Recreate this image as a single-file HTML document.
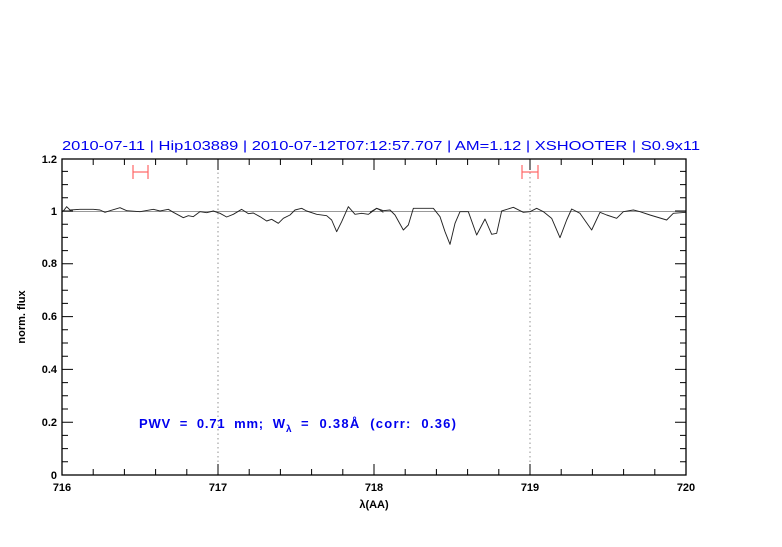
<!DOCTYPE html>
<html><head><meta charset="utf-8"><style>
body{margin:0;background:#fff;}
svg text{font-family:"Liberation Sans",sans-serif;}
</style></head><body>
<svg width="782" height="542" xmlns="http://www.w3.org/2000/svg">
<rect width="782" height="542" fill="#fff"/>
<text x="62" y="150" font-size="13" fill="#0000ee" textLength="638" lengthAdjust="spacingAndGlyphs">2010-07-11 | Hip103889 | 2010-07-12T07:12:57.707 | AM=1.12 | XSHOOTER | S0.9x11</text>
<line x1="218" y1="159" x2="218" y2="475" stroke="#777" stroke-width="0.8" stroke-dasharray="1.5,3"/>
<line x1="530" y1="159" x2="530" y2="475" stroke="#777" stroke-width="0.8" stroke-dasharray="1.5,3"/>
<line x1="62" y1="211.5" x2="686" y2="211.5" stroke="#999" stroke-width="1"/>
<g stroke="#f66" stroke-width="1.2">
<line x1="133" y1="172" x2="148" y2="172"/><line x1="133" y1="165" x2="133" y2="179"/><line x1="148" y1="165" x2="148" y2="179"/>
<line x1="522" y1="172" x2="538" y2="172"/><line x1="522" y1="165" x2="522" y2="179"/><line x1="538" y1="165" x2="538" y2="179"/>
</g>
<g transform="translate(60,155) scale(0.33333)" fill="none" stroke="#222" stroke-width="2.8" stroke-linejoin="round">
<polyline points="6,170 10,168 20,155 30,165 60,163 100,163 120,165 135,172 150,167 180,158 200,167 240,170 280,163 300,168 325,163 340,172 370,188 385,182 400,185 420,170 440,173 460,168 480,175 500,186 520,178 545,163 565,176 580,174 600,185 620,198 635,193 655,205 670,190 690,180 705,165 725,160 740,168 770,178 800,182 815,195 830,230 845,200 865,155 885,178 905,175 925,178 950,160 960,165 970,172"/>
</g>
<g transform="translate(370,155) scale(0.33333)" fill="none" stroke="#222" stroke-width="2.8" stroke-linejoin="round">
<polyline points="0,172 20,160 40,167 60,165 75,180 100,225 115,210 130,160 190,160 210,185 225,230 240,268 255,205 270,170 295,170 320,240 345,192 365,238 380,235 395,168 430,157 460,172 480,170 500,160 520,170 545,190 570,248 590,195 605,162 630,175 665,225 690,172 710,180 740,190 760,170 790,165 810,170 840,180 890,195 910,175 948,172"/>
</g>
<rect x="62" y="159" width="624" height="316" fill="none" stroke="#000" stroke-width="1.3"/>
<g stroke="#000" stroke-width="1">
<path d="M93.2 475v-6M124.4 475v-6M155.6 475v-6M186.8 475v-6M218 475v-11M249.2 475v-6M280.4 475v-6M311.6 475v-6M342.8 475v-6M374 475v-11M405.2 475v-6M436.4 475v-6M467.6 475v-6M498.8 475v-6M530 475v-11M561.2 475v-6M592.4 475v-6M623.6 475v-6M654.8 475v-6"/>
<path d="M93.2 159v6M124.4 159v6M155.6 159v6M186.8 159v6M218 159v11M249.2 159v6M280.4 159v6M311.6 159v6M342.8 159v6M374 159v11M405.2 159v6M436.4 159v6M467.6 159v6M498.8 159v6M530 159v11M561.2 159v6M592.4 159v6M623.6 159v6M654.8 159v6"/>
<path d="M62 461.8h6M62 448.6h6M62 435.4h6M62 422.2h11M62 409h6M62 395.8h6M62 382.6h6M62 369.4h11M62 356.2h6M62 343h6M62 329.8h6M62 316.6h11M62 303.4h6M62 290.2h6M62 277h6M62 263.8h11M62 250.6h6M62 237.4h6M62 224.2h6M62 211h11M62 197.8h6M62 184.6h6M62 171.4h6"/>
<path d="M686 461.8h-6M686 448.6h-6M686 435.4h-6M686 422.2h-11M686 409h-6M686 395.8h-6M686 382.6h-6M686 369.4h-11M686 356.2h-6M686 343h-6M686 329.8h-6M686 316.6h-11M686 303.4h-6M686 290.2h-6M686 277h-6M686 263.8h-11M686 250.6h-6M686 237.4h-6M686 224.2h-6M686 211h-11M686 197.8h-6M686 184.6h-6M686 171.4h-6"/>
</g>
<g font-size="11" font-weight="bold" fill="#000">
<g text-anchor="middle">
<text x="62" y="491">716</text><text x="218" y="491">717</text><text x="374" y="491">718</text><text x="530" y="491">719</text><text x="686" y="491">720</text>
<text x="374" y="508">λ(AA)</text>
</g>
<g text-anchor="end">
<text x="57" y="479">0</text><text x="57" y="426">0.2</text><text x="57" y="373">0.4</text><text x="57" y="320">0.6</text><text x="57" y="267">0.8</text><text x="57" y="215">1</text><text x="57" y="163">1.2</text>
</g>
<text transform="translate(25,317) rotate(-90)" text-anchor="middle">norm. flux</text>
</g>
<g font-size="13" fill="#0000ee" font-weight="bold">
<text x="139" y="428" textLength="146" lengthAdjust="spacing" xml:space="preserve">PWV  =  0.71  mm;  W</text>
<text x="286" y="432" font-size="10">λ</text>
<text x="301" y="428" textLength="155" lengthAdjust="spacing" xml:space="preserve">=  0.38Å  (corr:  0.36)</text>
</g>
</svg>
</body></html>
